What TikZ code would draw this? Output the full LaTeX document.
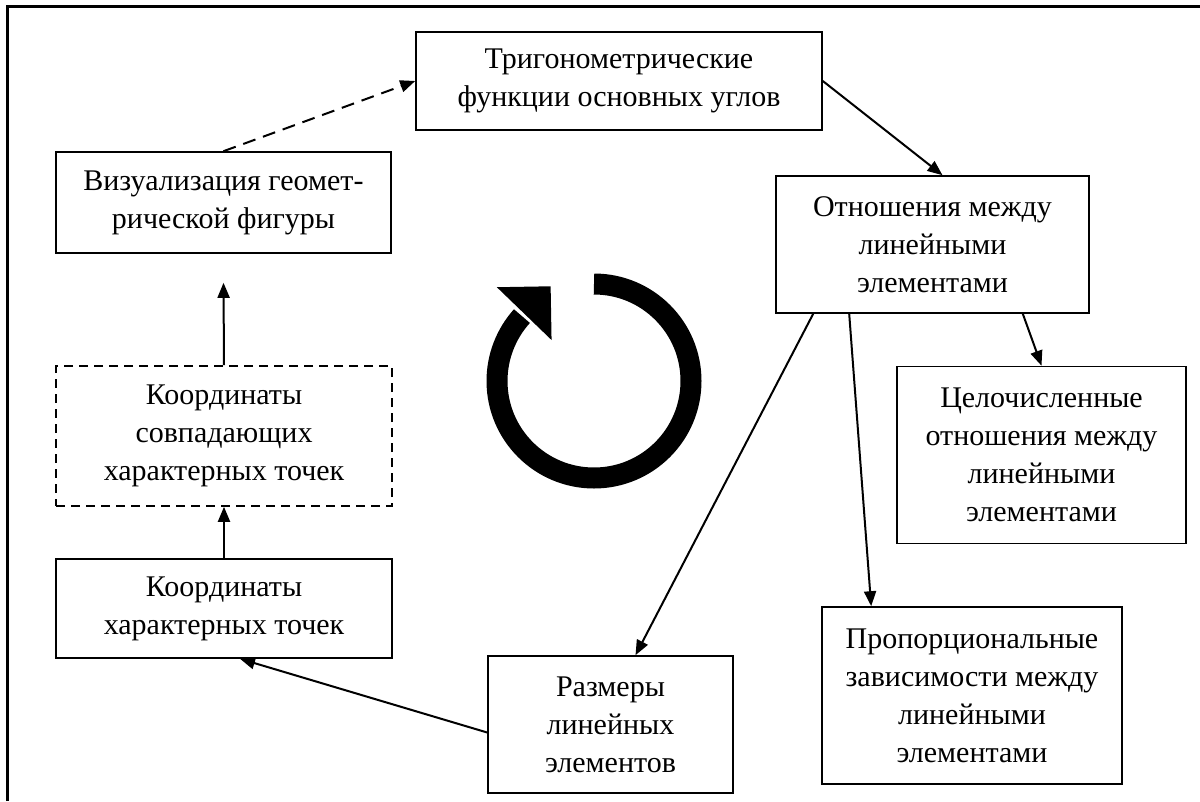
\documentclass[tikz,border=0pt]{standalone}
\usepackage{fontspec}
\setmainfont{Liberation Serif}
\usetikzlibrary{arrows.meta,calc}
\begin{document}
\begin{tikzpicture}[x=1pt,y=-1pt,
  box/.style={draw,line width=1.6pt,rectangle,inner sep=0pt,align=center,
    font=\fontsize{30}{38}\selectfont},
  dbox/.style={box,dash pattern=on 9pt off 6pt},
  conn/.style={line width=2pt,-{Triangle[length=15pt,width=12pt]}},
  dconn/.style={conn,dash pattern=on 13pt off 8pt},
  ring/.style={line width=21pt,line cap=butt}]
\useasboundingbox (0,0) rectangle (1200,801);
\fill[white] (0,0) rectangle (1200,801);
\draw[line width=3pt] (7,801) -- (7,6) -- (1200,6);

\node[box,minimum width=406pt,minimum height=98pt] (trig) at (619,81)
  {Тригонометрические\\функции основных углов};
\node[box,minimum width=335pt,minimum height=101pt] (viz) at (223.5,202.5)
  {Визуализация геомет-\\рической фигуры};
\node[box,minimum width=313pt,minimum height=137pt] (otn) at (932.5,244.5)
  {Отношения между\\линейными\\элементами};
\node[dbox,minimum width=336pt,minimum height=140pt] (sovp) at (224,436)
  {Координаты\\совпадающих\\характерных точек};
\node[box,minimum width=289pt,minimum height=177pt] (cel) at (1041.5,455)
  {Целочисленные\\отношения между\\линейными\\элементами};
\node[box,minimum width=336pt,minimum height=99pt] (har) at (224,608.5)
  {Координаты\\характерных точек};
\node[box,minimum width=245pt,minimum height=137pt] (raz) at (610.5,724.5)
  {Размеры\\линейных\\элементов};
\node[box,minimum width=300pt,minimum height=177pt] (prop) at (972,695.5)
  {Пропорциональные\\зависимости между\\линейными\\элементами};

\coordinate (vizgap) at ($(viz.south)+(0,29)$);

\draw[dconn] (viz.north) -- (trig.west);
\draw[conn] (trig.east) -- ($(otn.north)+(10,0)$);
\draw[conn] ($(otn.south west)+(38,0)$) -- ($(raz.north)+(25,0)$);
\draw[conn] ($(otn.south west)+(74,0)$) -- ($(prop.north west)+(50,0)$);
\draw[conn] ($(otn.south east)+(-67,0)$) -- (cel.north);
\draw[conn] (sovp.north) -- (vizgap);
\draw[conn] (har.north) -- (sovp.south);
\draw[conn] ($(raz.west)+(0,8)$) -- ($(har.south)+(16,0)$);

% circular arrow
\coordinate (rc) at (594,381);
\draw[ring] ($(rc)+(270:97)$) arc[start angle=270,end angle=582,radius=97];
\fill ($(rc)+(584:97)+(314:38)$) -- ($(rc)+(584:135)$) -- ($(rc)+(584:59)$) -- cycle;
\end{tikzpicture}
\end{document}
